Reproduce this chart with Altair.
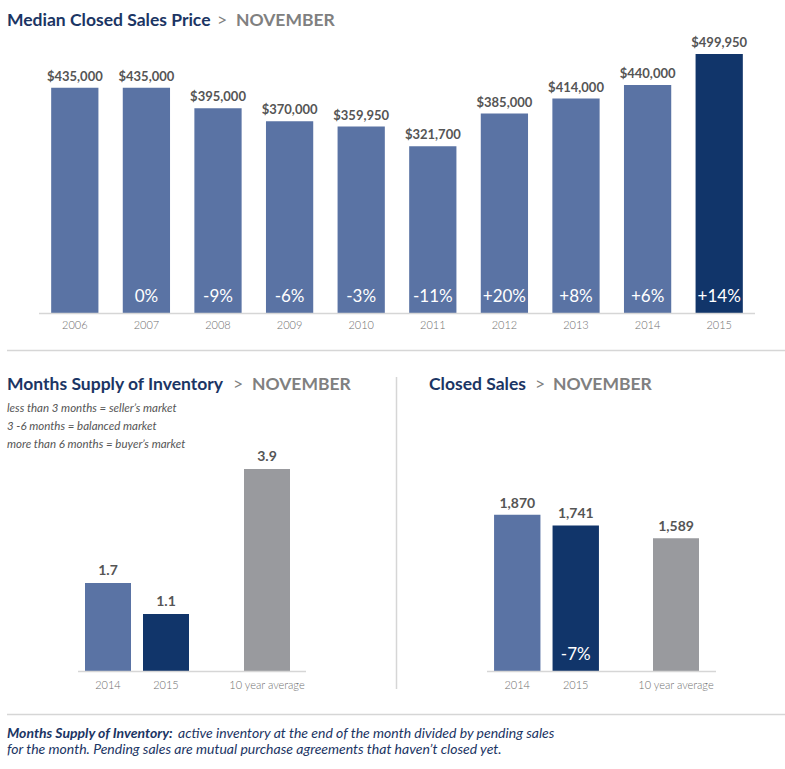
import altair as alt
import pandas as pd

# ---------------- data ----------------
years = ["2006", "2007", "2008", "2009", "2010", "2011", "2012", "2013", "2014", "2015"]
prices = [435000, 435000, 395000, 370000, 359950, 321700, 385000, 414000, 440000, 499950]
price_changes = ["", "0%", "-9%", "-6%", "-3%", "-11%", "+20%", "+8%", "+6%", "+14%"]

msi_periods = ["2014", "2015"]
msi_values = [1.7, 1.1]
msi_avg_label = ["10 year average"]
msi_avg_value = [3.9]

cs_periods = ["2014", "2015"]
cs_values = [1870, 1741]
cs_changes = ["", "-7%"]
cs_avg_label = ["10 year average"]
cs_avg_value = [1589]

market_notes = [
    "less than 3 months = seller\u2019s market",
    "3 -6 months = balanced market",
    "more than 6 months = buyer\u2019s market",
]
footnote_bold = "Months Supply of Inventory:"
footnote_rest = "active inventory at the end of the month divided by pending sales"
footnote_line2 = "for the month. Pending sales are mutual purchase agreements that haven\u2019t closed yet."

# ---------------- style ----------------
BLUE = "#5a73a4"
NAVY = "#11356a"
GRAY = "#999a9e"
TITLE = "#1b3564"
MONTH = "#808080"
LABEL = "#555555"
TICK = "#6f6f6f"
LINE = "#d6d6d6"
FONT = "Lato"

dummy = pd.DataFrame({"k": [0]})


def txt(s, x, y, size, color, weight="normal", style="normal", font=FONT, align="left"):
    return alt.Chart(dummy).mark_text(
        text=s, align=align, baseline="alphabetic", font=font, fontSize=size,
        fontWeight=weight, fontStyle=style, color=color
    ).encode(x=alt.value(x), y=alt.value(y))


def hline(x1, x2, y, color=LINE, w=1.5):
    return alt.Chart(dummy).mark_rule(color=color, strokeWidth=w).encode(
        x=alt.value(x1), x2=alt.value(x2), y=alt.value(y))


def vline(x, y1, y2, color=LINE, w=1.5):
    return alt.Chart(dummy).mark_rule(color=color, strokeWidth=w).encode(
        x=alt.value(x), y=alt.value(y1), y2=alt.value(y2))


layers = []

# ---------------- top panel: median price ----------------
df_top = pd.DataFrame({"year": years, "price": prices, "chg": price_changes})
x_top = alt.X("year:N", scale=alt.Scale(domain=years, range=[39, 755],
                                        paddingInner=0.34, paddingOuter=0.17), axis=None)
y_top = alt.Y("price:Q", scale=alt.Scale(domain=[0, 499950], range=[313, 54],
                                         nice=False, zero=True), axis=None)
top_color = alt.condition(alt.datum.year == "2015", alt.value(NAVY), alt.value(BLUE))
base_top = alt.Chart(df_top)
layers += [
    base_top.mark_bar().encode(x=x_top, y=y_top, color=top_color),
    base_top.mark_text(font=FONT, fontSize=13, fontWeight="bold", color=LABEL,
                       baseline="alphabetic", dy=-7).encode(
        x=x_top, y=y_top, text=alt.Text("price:Q", format="$,")),
    base_top.mark_text(font=FONT, fontSize=17, color="white", baseline="alphabetic").encode(
        x=x_top, y=alt.value(302), text="chg:N"),
    base_top.mark_text(font=FONT, fontSize=11, fontWeight=300, color=TICK,
                       baseline="alphabetic").encode(
        x=x_top, y=alt.value(329), text="year:N"),
    hline(39, 755, 313.5),
]

# ---------------- bottom left: months supply ----------------
y_msi_scale = alt.Scale(domain=[0, 3.9], range=[671, 469], nice=False, zero=True)
df_msi = pd.DataFrame({"period": msi_periods, "value": msi_values})
x_msi = alt.X("period:N", scale=alt.Scale(domain=msi_periods, range=[79, 195],
                                          paddingInner=0.207, paddingOuter=0.1035), axis=None)
y_msi = alt.Y("value:Q", scale=y_msi_scale, axis=None)
msi_color = alt.condition(alt.datum.period == "2015", alt.value(NAVY), alt.value(BLUE))
b = alt.Chart(df_msi)
layers += [
    b.mark_bar().encode(x=x_msi, y=y_msi, color=msi_color),
    b.mark_text(font=FONT, fontSize=14, fontWeight="bold", color=LABEL,
                baseline="alphabetic", dy=-8).encode(
        x=x_msi, y=y_msi, text=alt.Text("value:Q", format=".1f")),
    b.mark_text(font=FONT, fontSize=11, fontWeight=300, color=TICK,
                baseline="alphabetic").encode(x=x_msi, y=alt.value(689), text="period:N"),
]
df_msi_avg = pd.DataFrame({"period": msi_avg_label, "value": msi_avg_value})
x_msia = alt.X("period:N", scale=alt.Scale(domain=msi_avg_label, range=[244, 290],
                                           paddingInner=0, paddingOuter=0), axis=None)
b = alt.Chart(df_msi_avg)
layers += [
    b.mark_bar(color=GRAY).encode(x=x_msia, y=y_msi),
    b.mark_text(font=FONT, fontSize=14, fontWeight="bold", color=LABEL,
                baseline="alphabetic", dy=-8).encode(
        x=x_msia, y=y_msi, text=alt.Text("value:Q", format=".1f")),
    b.mark_text(font=FONT, fontSize=11, fontWeight=300, color=TICK,
                baseline="alphabetic").encode(x=x_msia, y=alt.value(689), text="period:N"),
    hline(78, 306, 671.5),
]

# ---------------- bottom right: closed sales ----------------
y_cs_scale = alt.Scale(domain=[0, 1870], range=[671, 514.7], nice=False, zero=True)
df_cs = pd.DataFrame({"period": cs_periods, "value": cs_values, "chg": cs_changes})
x_cs = alt.X("period:N", scale=alt.Scale(domain=cs_periods, range=[488, 605],
                                         paddingInner=0.207, paddingOuter=0.1035), axis=None)
y_cs = alt.Y("value:Q", scale=y_cs_scale, axis=None)
cs_color = alt.condition(alt.datum.period == "2015", alt.value(NAVY), alt.value(BLUE))
b = alt.Chart(df_cs)
layers += [
    b.mark_bar().encode(x=x_cs, y=y_cs, color=cs_color),
    b.mark_text(font=FONT, fontSize=14, fontWeight="bold", color=LABEL,
                baseline="alphabetic", dy=-7).encode(
        x=x_cs, y=y_cs, text=alt.Text("value:Q", format=",")),
    b.mark_text(font=FONT, fontSize=17, color="white", baseline="alphabetic").encode(
        x=x_cs, y=alt.value(660), text="chg:N"),
    b.mark_text(font=FONT, fontSize=11, fontWeight=300, color=TICK,
                baseline="alphabetic").encode(x=x_cs, y=alt.value(689), text="period:N"),
]
df_cs_avg = pd.DataFrame({"period": cs_avg_label, "value": cs_avg_value})
x_csa = alt.X("period:N", scale=alt.Scale(domain=cs_avg_label, range=[653, 699],
                                          paddingInner=0, paddingOuter=0), axis=None)
b = alt.Chart(df_cs_avg)
layers += [
    b.mark_bar(color=GRAY).encode(x=x_csa, y=y_cs),
    b.mark_text(font=FONT, fontSize=14, fontWeight="bold", color=LABEL,
                baseline="alphabetic", dy=-7).encode(
        x=x_csa, y=y_cs, text=alt.Text("value:Q", format=",")),
    b.mark_text(font=FONT, fontSize=11, fontWeight=300, color=TICK,
                baseline="alphabetic").encode(x=x_csa, y=alt.value(689), text="period:N"),
    hline(487, 716, 671.5),
]

# ---------------- titles, notes, dividers ----------------
layers += [
    txt("Median Closed Sales Price", 7, 26, 17.5, TITLE, "bold"),
    txt(">", 217, 26, 17.5, MONTH),
    txt("NOVEMBER", 236, 26, 17.5, MONTH, "bold"),
    txt("Months Supply of Inventory", 7, 390, 17.5, TITLE, "bold"),
    txt(">", 233, 390, 17.5, MONTH),
    txt("NOVEMBER", 252, 390, 17.5, MONTH, "bold"),
    txt("Closed Sales", 429, 390, 17.5, TITLE, "bold"),
    txt(">", 535, 390, 17.5, MONTH),
    txt("NOVEMBER", 553, 390, 17.5, MONTH, "bold"),
    txt(market_notes[0], 7, 412, 11.5, LABEL, style="italic"),
    txt(market_notes[1], 7, 430, 11.5, LABEL, style="italic"),
    txt(market_notes[2], 7, 448, 11.5, LABEL, style="italic"),
    txt(footnote_bold, 7, 738, 14, TITLE, "bold", "italic"),
    txt(footnote_rest, 178, 738, 14, TITLE, style="italic"),
    txt(footnote_line2, 7, 754, 14, TITLE, style="italic"),
    hline(7, 785, 350.5),
    hline(7, 785, 714.5),
    vline(396.5, 377, 689),
]

chart = alt.layer(*layers).resolve_scale(x="independent", y="independent").properties(
    width=785, height=769, padding=0, autosize="none", background="white"
).configure_view(stroke=None)

chart.save("out.html", embed_options={"renderer": "svg", "actions": False})
